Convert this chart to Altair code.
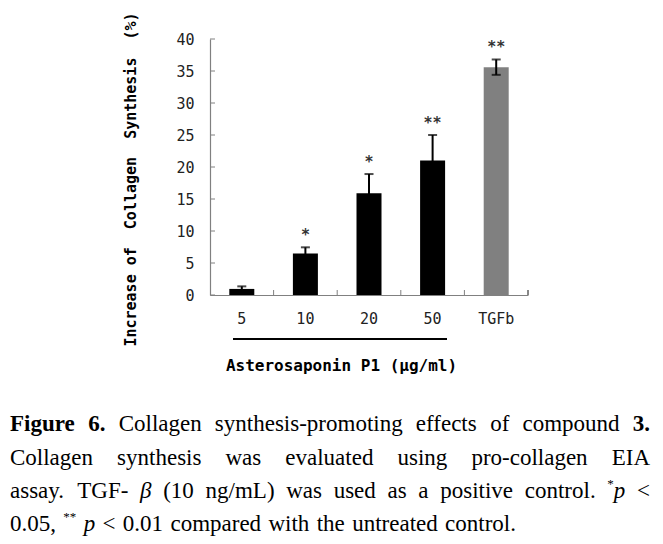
import altair as alt
import pandas as pd

# ---------------- data ----------------
cats = ["5", "10", "20", "50", "TGFb"]
means = [0.95, 6.5, 15.9, 21.0, 35.6]
errs = [0.4, 0.95, 3.0, 4.0, 1.2]
stars = ["", "*", "*", "**", "**"]
bar_colors = ["#000000", "#000000", "#000000", "#000000", "#808080"]
y_tick_values = [0, 5, 10, 15, 20, 25, 30, 35, 40]
x_tick_cats = ["10", "20", "50", "TGFb"]

y_title = "Increase of\u00a0 Collagen\u00a0 Synthesis\u00a0 (%)"
x_title = "Asterosaponin P1 (\u03bcg/ml)"

caption_lines = [
    [[("Figure", "bold")], [("6.", "bold")], [("Collagen", "reg")], [("synthesis-promoting", "reg")],
     [("effects", "reg")], [("of", "reg")], [("compound", "reg")], [("3.", "bold")]],
    [[("Collagen", "reg")], [("synthesis", "reg")], [("was", "reg")], [("evaluated", "reg")],
     [("using", "reg")], [("pro-collagen", "reg")], [("EIA", "reg")]],
    [[("assay.", "reg")], [("TGF-", "reg")], [("\u03b2", "ital")], [("(10", "reg")], [("ng/mL)", "reg")],
     [("was", "reg")], [("used", "reg")], [("as", "reg")], [("a", "reg")], [("positive", "reg")],
     [("control.", "reg")], [("*", "sup"), ("p", "ital")], [("<", "reg")]],
    [[("0.05,", "reg")], [("**", "sup")], [("p", "ital")], [("<", "reg")], [("0.01", "reg")],
     [("compared", "reg")], [("with", "reg")], [("the", "reg")], [("untreated", "reg")], [("control.", "reg")]],
]
caption_justify = [True, True, True, False]

# ---------------- layout ----------------
PLOT_X, PLOT_Y = 210, 39          # page position of plot origin
W, H = 318, 256
CAP_LEFT, CAP_RIGHT = 10, 650
LINE4_END = 516
BASELINES = [431, 464.5, 497.5, 530.5]
FS, SUP_FS = 23, 13

REG = {' ': 250, '(': 333, ')': 333, '*': 500, ',': 250, '-': 333, '.': 250, '/': 278, '<': 564,
       'A': 722, 'C': 667, 'E': 611, 'F': 556, 'G': 722, 'I': 333, 'L': 611, 'T': 611,
       'a': 444, 'b': 500, 'c': 444, 'd': 500, 'e': 444, 'f': 333, 'g': 500, 'h': 500, 'i': 278,
       'l': 278, 'm': 778, 'n': 500, 'o': 500, 'p': 500, 'r': 333, 's': 389, 't': 278, 'u': 500,
       'v': 500, 'w': 722, 'y': 500}
BOLD = {'F': 611, 'i': 278, 'g': 500, 'u': 556, 'r': 444, 'e': 444, '.': 250, '3': 500, '6': 500}


def seg_width(text, style):
    if style == "bold":
        return sum(BOLD.get(c, 500) for c in text) * FS / 1000
    if style == "sup":
        return sum(REG.get(c, 500) for c in text) * SUP_FS / 1000
    return sum(REG.get(c, 500) for c in text) * FS / 1000


rows = []
for li, (tokens, just) in enumerate(zip(caption_lines, caption_justify)):
    widths = [sum(seg_width(t, s) for t, s in tok) for tok in tokens]
    total = sum(widths)
    gaps = len(tokens) - 1
    right = CAP_RIGHT if just else LINE4_END
    gap = (right - CAP_LEFT - total) / gaps
    x = CAP_LEFT
    for tok, w in zip(tokens, widths):
        sx = x
        for t, s in tok:
            rows.append({"text": t, "style": s, "px": sx - PLOT_X, "py": BASELINES[li] - PLOT_Y})
            sx += seg_width(t, s)
        x += w + gap
cap_df = pd.DataFrame(rows)

df = pd.DataFrame({
    "cat": cats,
    "val": means,
    "lo": [m - e for m, e in zip(means, errs)],
    "hi": [m + e for m, e in zip(means, errs)],
    "star": stars,
})
yt_df = pd.DataFrame({"v": y_tick_values})
xt_df = pd.DataFrame({"cat": x_tick_cats})

# ---------------- encodings ----------------
LABEL_FONT = "DejaVu Sans Mono"
x_scale = alt.Scale(domain=cats, paddingInner=0, paddingOuter=0)
y_scale = alt.Scale(domain=[0, 40], nice=False, zero=True)
x_axis = alt.Axis(title=x_title, labelAngle=0, ticks=False, tickSize=0, domainColor="#808080",
                  domainWidth=1.2, labelPadding=16, labelFont=LABEL_FONT, labelFontSize=15,
                  labelColor="#222222", titleFont=LABEL_FONT, titleFontSize=16, titleFontWeight="bold",
                  titleColor="#000000", titleX=131, titleY=70, titleAlign="center",
                  titleBaseline="middle", grid=False)
y_axis = alt.Axis(title=y_title, values=y_tick_values, ticks=False, tickSize=0, domainColor="#808080",
                  domainWidth=1.2, labelPadding=16, labelFont=LABEL_FONT, labelFontSize=15,
                  labelColor="#222222", titleFont=LABEL_FONT, titleFontSize=15, titleFontWeight="bold",
                  titleColor="#000000", titleX=-80, titleY=140, titleAngle=270, titleAlign="center",
                  titleBaseline="middle", grid=False)


def X(field="cat:N", **kw):
    return alt.X(field, scale=x_scale, sort=cats, axis=x_axis, **kw)


def Y(field):
    return alt.Y(field, scale=y_scale, axis=y_axis)


base = alt.Chart(df)
bars = base.mark_bar(size=25).encode(
    x=X(), y=Y("val:Q"),
    color=alt.Color("cat:N", scale=alt.Scale(domain=cats, range=bar_colors), legend=None),
)
err = base.mark_rule(color="black", strokeWidth=2).encode(x=X(), y=Y("lo:Q"), y2="hi:Q")
cap_hi = base.mark_tick(color="black", thickness=2, size=9).encode(x=X(), y=Y("hi:Q"))
cap_lo = base.mark_tick(color="black", thickness=2, size=9).encode(x=X(), y=Y("lo:Q"))
star_txt = base.mark_text(font=LABEL_FONT, fontSize=15, fontWeight="bold", color="#333333",
                          baseline="alphabetic", dy=-7).encode(x=X(), y=Y("hi:Q"), text="star:N")
yticks = alt.Chart(yt_df).mark_rule(color="#808080", strokeWidth=1).encode(
    y=Y("v:Q"), x=alt.value(0), x2=alt.value(5))
xticks = alt.Chart(xt_df).mark_rule(color="#808080", strokeWidth=1).encode(
    x=X(bandPosition=0), y=alt.value(H - 5), y2=alt.value(H))
xtick_end = alt.Chart(xt_df).mark_rule(color="#808080", strokeWidth=1).encode(
    x=alt.value(W), y=alt.value(H - 5), y2=alt.value(H))
underline = alt.Chart(xt_df).mark_rule(color="black", strokeWidth=1.5).encode(
    x=alt.value(23), x2=alt.value(237), y=alt.value(300))

main = alt.layer(bars, err, cap_hi, cap_lo, star_txt, yticks, xticks, xtick_end, underline)


def cap_layer(style, **mk):
    return alt.Chart(cap_df).transform_filter(alt.datum.style == style).mark_text(
        align="left", baseline="alphabetic", color="#000000", **mk).encode(
        x=alt.X("px:Q", scale=None), y=alt.Y("py:Q", scale=None), text="text:N")


SERIF = "Liberation Serif"
captions = alt.layer(
    cap_layer("reg", font=SERIF, fontSize=FS),
    cap_layer("bold", font=SERIF, fontSize=FS, fontWeight="bold"),
    cap_layer("ital", font=SERIF, fontSize=FS, fontStyle="italic"),
    cap_layer("sup", font=SERIF, fontSize=SUP_FS, dy=-10),
)

chart = alt.layer(main, captions).resolve_scale(x="independent", y="independent").properties(
    width=W, height=H,
    padding={"left": PLOT_X - 8, "top": PLOT_Y - 8, "right": 647 - (PLOT_X - 8) - W,
             "bottom": 528 - (PLOT_Y - 8) - H},
    autosize=alt.AutoSizeParams(type="none"),
    background="white",
).configure_view(stroke=None)

chart.save("out.html", embed_options={"renderer": "svg", "actions": False})
